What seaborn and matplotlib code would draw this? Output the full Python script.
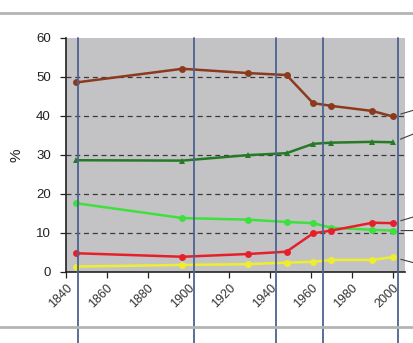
import matplotlib
matplotlib.use("Agg")
import matplotlib.pyplot as plt
from matplotlib.lines import Line2D
import seaborn as sns
import pandas as pd

# Survey years and the share (%) of each group
years = [1845, 1897, 1929, 1948, 1961, 1970, 1990, 2000]
brown_vals = [48.5, 52.0, 50.9, 50.4, 43.2, 42.5, 41.2, 39.8]
darkgreen_vals = [28.6, 28.5, 29.9, 30.4, 32.8, 33.1, 33.3, 33.2]
lightgreen_vals = [17.6, 13.8, 13.4, 12.8, 12.5, 11.3, 10.8, 10.6]
red_vals = [4.8, 3.9, 4.6, 5.2, 9.9, 10.6, 12.6, 12.5]
yellow_vals = [1.4, 1.8, 2.0, 2.4, 2.6, 3.1, 3.1, 3.8]

# Timeline markers crossing the chart
marker_years = [1845.7, 1902.5, 1942.7, 1965.9, 2002.4]

x_ticks = [1840, 1860, 1880, 1900, 1920, 1940, 1960, 1980, 2000]
y_ticks = [0, 10, 20, 30, 40, 50, 60]

sns.set_style("white")
plt.rcParams["font.family"] = ["Liberation Sans", "DejaVu Sans"]

fig = plt.figure(figsize=(4.14, 3.43), dpi=100)
ax = fig.add_axes([66 / 414, 1 - 272 / 343, (405 - 66) / 414, (272 - 37.5) / 343])
ax.set_facecolor("#c3c3c6")

ax.set_xlim(1840, 2006)
ax.set_ylim(0, 60)

# horizontal dashed grid
for v in y_ticks[1:-1]:
    ax.axhline(v, color="#3a3a3a", lw=0.9, ls=(0, (4, 3)), zorder=1)

# (values, colour, marker, leader-line rise in points)
series = [
    (yellow_vals, "#eeee2e", "o", -8),
    (lightgreen_vals, "#3ee03e", "o", 0),
    (red_vals, "#e6202a", "o", 9),
    (darkgreen_vals, "#257a25", "^", 12),
    (brown_vals, "#8b3a1e", "o", 9),
]
for vals, col, mk, rise in series:
    df = pd.DataFrame({"year": years, "pct": vals})
    sns.lineplot(data=df, x="year", y="pct", color=col, marker=mk,
                 markersize=5, markeredgewidth=0, lw=1.8, ax=ax, zorder=3)
    # leader line toward the series label beyond the right edge
    ax.annotate("", xy=(years[-1], vals[-1]), xytext=(30, rise),
                textcoords="offset points",
                arrowprops=dict(arrowstyle="-", color="#404040", lw=0.8,
                                shrinkA=0, shrinkB=6))

for xv in marker_years:
    ax.axvline(xv, ymin=-0.33, ymax=1.0, color="#4d6290", lw=1.3,
               clip_on=False, zorder=4)

ax.set_xticks(x_ticks)
ax.set_yticks(y_ticks)
ax.set_xticklabels([str(t) for t in x_ticks], rotation=45, ha="right",
                   rotation_mode="anchor", fontsize=9, color="#333333")
ax.set_yticklabels([str(t) for t in y_ticks], fontsize=9.5, color="#222222")
ax.tick_params(axis="both", direction="out", length=4, width=0.9,
               color="#222222", bottom=True, left=True)
ax.tick_params(axis="x", pad=3)
ax.tick_params(axis="y", pad=7)

ax.set_xlabel("")
ax.set_ylabel("%", fontsize=11, color="#222222", labelpad=9)

for side in ("top", "right"):
    ax.spines[side].set_visible(False)
for side in ("left", "bottom"):
    ax.spines[side].set_color("#222222")
    ax.spines[side].set_linewidth(1.2)

# frame rules above and below the chart
fig.add_artist(Line2D([0, 1], [1 - 13 / 343] * 2, color="#b4b4b4", lw=2,
                      transform=fig.transFigure))
fig.add_artist(Line2D([0, 1], [1 - 327 / 343] * 2, color="#b4b4b4", lw=2,
                      transform=fig.transFigure))

fig.savefig("out.png", dpi=100)
